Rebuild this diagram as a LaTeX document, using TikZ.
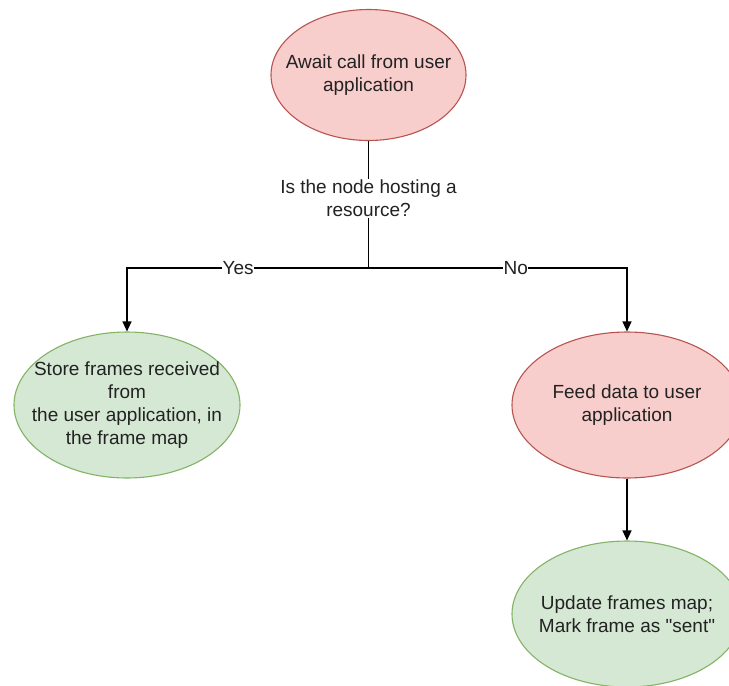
\documentclass[tikz,border=0pt]{standalone}
\usepackage{fontspec}
\setmainfont{Liberation Sans}[Ligatures=TeXOff]
\usetikzlibrary{shapes.geometric,arrows.meta}
\definecolor{redfill}{HTML}{F8CECC}
\definecolor{redline}{HTML}{B85450}
\definecolor{greenfill}{HTML}{D5E8D4}
\definecolor{greenline}{HTML}{82B366}
\definecolor{txt}{HTML}{222222}
\begin{document}
\begin{tikzpicture}[x=1pt,y=-1pt,
  every node/.style={font=\fontsize{19}{23}\selectfont, text=txt},
  oval/.style={ellipse, draw, line width=1.1pt, inner xsep=-60pt, inner ysep=-40pt, align=center},
  redoval/.style={oval, fill=redfill, draw=redline},
  greenoval/.style={oval, fill=greenfill, draw=greenline},
  flow/.style={draw=black, line width=1.3pt, -{Triangle[width=9pt,length=10pt]}},
  lbl/.style={fill=white, inner sep=1pt, align=center}]
\useasboundingbox (0,0) rectangle (729,686);
\clip (0,0) rectangle (729,686);

\node[redoval, minimum width=195pt, minimum height=131pt] (await) at (368.5,75)
  {Await call from user\\application};
\node[greenoval, minimum width=226pt, minimum height=146pt] (store) at (127,405)
  {Store frames received\\from\\the user application, in\\the frame map};
\node[redoval, minimum width=230pt, minimum height=146pt] (feed) at (627,405)
  {Feed data to user\\application};
\node[greenoval, minimum width=230pt, minimum height=146pt] (update) at (627,614)
  {Update frames map;\\Mark frame as "sent"};

\coordinate (split) at (368.5,268);
\draw[line width=1.3pt] (await.south) -- node[lbl, pos=0.45] {Is the node hosting a\\resource?} (split);
\draw[flow] (split) -| node[lbl, pos=0.27, inner sep=0.5pt] {Yes} (store.north);
\draw[flow] (split) -| node[lbl, pos=0.285, inner sep=0.5pt] {No} (feed.north);
\draw[flow] (feed.south) -- (update.north);
\end{tikzpicture}
\end{document}
